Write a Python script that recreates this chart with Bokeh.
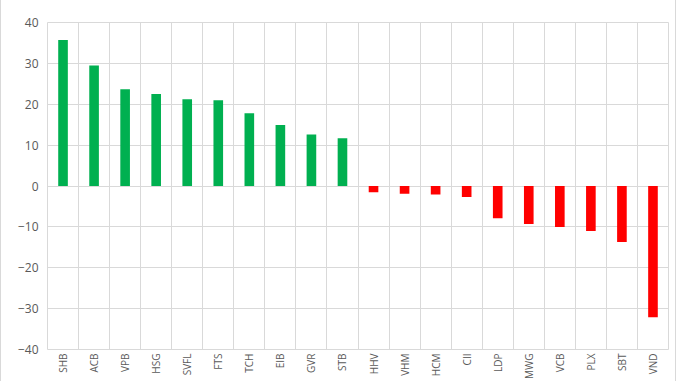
from bokeh.plotting import figure
from bokeh.models import FixedTicker, Range1d
from bokeh.embed import file_html
from bokeh.resources import INLINE
import math

categories = ["SHB", "ACB", "VPB", "HSG", "SVFL", "FTS", "TCH", "EIB", "GVR", "STB",
              "HHV", "VHM", "HCM", "CII", "LDP", "MWG", "VCB", "PLX", "SBT", "VND"]
values = [35.7, 29.5, 23.7, 22.5, 21.2, 21.0, 17.8, 14.9, 12.6, 11.7,
          -1.5, -1.9, -2.1, -2.7, -7.9, -9.3, -10.0, -11.0, -13.7, -32.1]
y_ticks = [-40, -30, -20, -10, 0, 10, 20, 30, 40]

GREEN = "#00B050"
RED = "#FF0000"
GRID = "#D9D9D9"
TEXT = "#595959"

centers = [i + 0.5 for i in range(len(categories))]
colors = [GREEN if v >= 0 else RED for v in values]

p = figure(width=676, height=381, output_backend="svg", toolbar_location=None,
           x_range=Range1d(0, len(categories)), y_range=Range1d(y_ticks[0], y_ticks[-1]),
           min_border_left=46, min_border_right=9, min_border_top=22, min_border_bottom=20)
p.styles = {"border-left": "1px solid #D9D9D9", "border-right": "1px solid #D9D9D9"}

p.vbar(x=centers, top=values, bottom=0, width=0.31, color=colors, line_color=None)

# y axis
p.yaxis.ticker = FixedTicker(ticks=y_ticks)
p.yaxis.axis_line_color = None
p.yaxis.major_tick_line_color = None
p.yaxis.major_tick_out = 0
p.yaxis.major_tick_in = 0
p.yaxis.minor_tick_line_color = None
p.yaxis.major_label_text_color = TEXT
p.yaxis.major_label_text_font = "Open Sans"
p.yaxis.major_label_text_font_size = "12px"
p.yaxis.major_label_standoff = 9

# x axis
p.xaxis.ticker = FixedTicker(ticks=centers)
p.xaxis.major_label_overrides = {c: name for c, name in zip(centers, categories)}
p.xaxis.major_label_orientation = math.pi / 2
p.xaxis.axis_line_color = None
p.xaxis.major_tick_line_color = None
p.xaxis.major_tick_out = 0
p.xaxis.major_tick_in = 0
p.xaxis.minor_tick_line_color = None
p.xaxis.major_label_text_color = TEXT
p.xaxis.major_label_text_font = "Open Sans"
p.xaxis.major_label_text_font_size = "10px"
p.xaxis.major_label_standoff = 4

# grids
p.ygrid.ticker = FixedTicker(ticks=y_ticks)
p.xgrid.ticker = FixedTicker(ticks=list(range(len(categories) + 1)))
p.xgrid.grid_line_color = GRID
p.ygrid.grid_line_color = GRID
p.outline_line_color = GRID

open("out.html", "w").write(file_html(p, INLINE))
